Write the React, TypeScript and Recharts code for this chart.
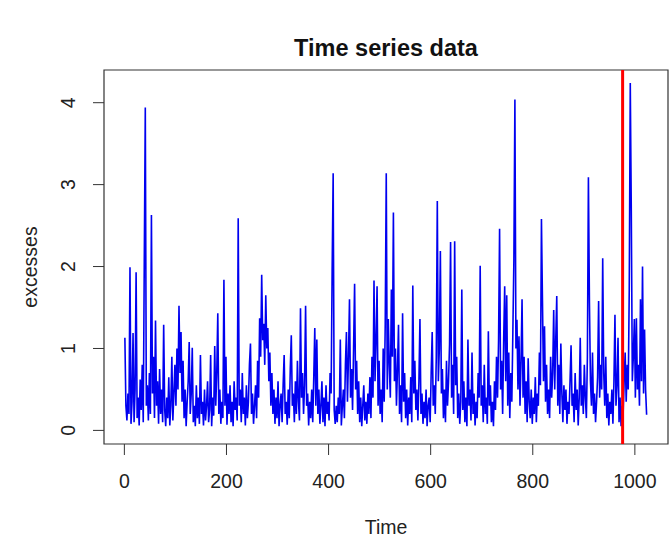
import { LineChart, Line, XAxis, YAxis, ReferenceLine, ReferenceArea } from 'recharts'

const STEP = 2
const excesses = [
  1.13, 0.3, 0.12, 0.45, 0.2, 1.99, 0.08, 0.35, 1.19, 0.1, 0.5, 1.93, 0.15, 0.4, 0.06, 0.62,
  0.25, 0.8, 0.1, 2.06, 3.94, 0.3, 0.55, 0.12, 0.7, 0.2, 2.63, 0.45, 0.9, 0.15, 1.34, 0.3,
  0.6, 0.08, 0.75, 0.2, 0.5, 0.1, 1.29, 0.25, 0.05, 0.4, 0.15, 0.65, 0.06, 0.3, 0.9, 0.12,
  0.45, 0.8, 0.3, 1.0, 0.5, 1.52, 0.7, 1.2, 0.35, 0.85, 0.15, 0.5, 0.05, 0.35, 0.6, 1.08,
  0.2, 0.45, 1.01, 0.1, 0.3, 0.05, 0.55, 0.15, 0.4, 0.08, 0.92, 0.2, 0.35, 0.06, 0.5, 0.12,
  0.3, 0.6, 0.1, 0.25, 0.92, 0.05, 0.4, 0.18, 1.03, 0.3, 0.7, 1.43, 0.2, 0.5, 0.08, 0.35,
  0.15, 1.84, 0.3, 0.9, 0.07, 0.45, 0.2, 0.55, 0.1, 0.35, 0.05, 0.6, 0.25, 0.4, 0.12, 2.59,
  0.3, 0.5, 0.1, 0.7, 0.2, 0.4, 0.06, 0.55, 0.15, 0.35, 0.8, 1.06, 0.2, 0.45, 0.08, 0.3,
  0.55, 0.15, 0.85, 0.4, 1.37, 0.9, 1.9, 1.1, 1.3, 0.8, 1.65, 1.0, 1.25, 0.6, 0.95, 0.3,
  0.7, 0.2, 0.5, 0.08, 0.4, 0.15, 0.6, 0.05, 0.3, 0.45, 0.1, 0.55, 0.92, 0.2, 0.35, 0.07,
  0.5, 0.15, 0.75, 1.16, 0.3, 0.45, 0.1, 0.6, 0.2, 0.85, 0.35, 0.12, 1.49, 0.4, 0.7, 0.2,
  0.55, 1.52, 0.3, 0.45, 0.06, 0.35, 0.15, 0.5, 0.1, 0.65, 1.25, 0.3, 1.11, 0.2, 0.5, 0.08,
  0.3, 0.6, 0.1, 0.4, 0.05, 0.55, 0.2, 0.35, 0.12, 0.7, 0.45, 1.95, 3.14, 0.25, 0.08, 0.3,
  0.1, 0.4, 0.2, 1.11, 0.06, 0.3, 0.5, 0.15, 0.8, 1.2, 0.35, 0.9, 1.6, 0.4, 0.75, 0.25,
  1.0, 1.79, 0.5, 0.85, 0.2, 0.6, 0.1, 0.4, 0.05, 0.3, 0.55, 0.12, 0.35, 0.08, 0.45, 0.2,
  0.65, 0.15, 0.9, 0.4, 1.83, 0.6, 1.1, 1.76, 0.3, 0.85, 0.2, 0.5, 0.1, 1.0, 0.35, 1.3,
  3.14, 0.5, 1.36, 0.8, 0.4, 1.72, 0.9, 2.66, 0.6, 1.0, 0.3, 0.75, 1.29, 0.2, 0.55, 0.1,
  1.43, 0.35, 0.7, 0.15, 0.5, 0.06, 0.4, 0.2, 0.65, 0.1, 1.77, 0.45, 0.85, 0.25, 0.5, 0.12,
  0.6, 1.36, 0.2, 0.45, 0.08, 0.35, 0.15, 0.5, 0.05, 0.3, 0.4, 0.1, 0.7, 1.2, 0.3, 0.55,
  0.2, 0.9, 2.8, 0.6, 1.0, 2.19, 0.45, 0.75, 0.15, 0.5, 0.1, 0.85, 0.3, 0.6, 1.05, 2.3,
  0.4, 0.8, 0.2, 2.31, 0.55, 0.9, 0.15, 0.45, 0.08, 0.35, 1.72, 0.25, 0.6, 0.1, 0.4, 0.05,
  1.11, 0.3, 0.5, 0.12, 0.95, 0.2, 0.45, 0.06, 0.35, 0.15, 0.7, 0.4, 2.01, 0.3, 0.55, 0.1,
  0.8, 0.2, 0.4, 0.08, 1.21, 0.3, 0.55, 0.1, 0.35, 0.05, 0.6, 0.25, 0.9, 0.4, 1.1, 2.46,
  0.5, 0.85, 0.2, 1.1, 1.76, 0.6, 1.65, 0.3, 0.95, 0.15, 0.7, 0.35, 1.2, 2.08, 4.04, 1.0,
  1.35, 0.5, 1.15, 0.3, 0.85, 1.6, 0.4, 0.9, 0.2, 0.6, 0.1, 0.88, 0.35, 0.15, 0.5, 0.08,
  0.4, 0.2, 0.65, 0.1, 0.45, 0.3, 0.95, 0.55, 2.58, 1.58, 0.6, 1.27, 0.35, 0.8, 0.2, 0.5,
  0.15, 0.9, 0.4, 0.7, 1.47, 0.5, 1.1, 1.64, 0.3, 0.8, 0.2, 1.06, 0.45, 0.1, 0.55, 0.25,
  0.5, 0.08, 0.35, 0.2, 0.6, 1.04, 0.3, 0.45, 0.1, 0.7, 0.25, 0.5, 0.06, 0.4, 1.13, 0.3,
  0.55, 0.2, 0.8, 0.4, 0.15, 0.9, 3.09, 1.56, 0.6, 0.3, 0.95, 0.2, 0.45, 0.1, 0.35, 0.65,
  1.58, 0.4, 0.8, 0.5, 2.1, 0.7, 0.3, 0.9, 0.15, 0.45, 0.06, 0.35, 0.2, 0.5, 0.08, 0.6,
  1.41, 0.3, 0.55, 1.13, 0.1, 0.4, 0.05, 0.3, 0.2, 0.6, 0.95, 0.35, 0.8, 0.5, 1.72, 4.24,
  2.68, 0.6, 0.9, 1.36, 0.4, 1.37, 0.5, 0.8, 0.3, 1.6, 0.6, 2.0, 0.45, 1.23, 0.5, 0.19,
]
const timeTicks = [0, 200, 400, 600, 800, 1000]
const valueTicks = [0, 1, 2, 3, 4]
const THRESHOLD_TIME = 976

// R-style padded ranges (4% each side)
const X_DOMAIN: [number, number] = [-39.9, 1064.9]
const Y_DOMAIN: [number, number] = [-0.166, 4.399]

const data = excesses.map((v, i) => ({ t: 1 + STEP * i, v }))

const FONT = '"Liberation Sans", Arial, sans-serif'
const INK = '#333333'

const XTick = (props: any) => (
  <text
    x={props.x}
    y={props.y + 31}
    textAnchor="middle"
    fontSize={19.5}
    fontFamily={FONT}
    fill="#222"
  >
    {props.payload.value}
  </text>
)

const YTick = (props: any) => {
  const x = props.x - 16
  return (
    <text
      x={x}
      y={props.y}
      transform={`rotate(-90, ${x}, ${props.y})`}
      textAnchor="middle"
      fontSize={19.5}
      fontFamily={FONT}
      fill="#222"
    >
      {props.payload.value}
    </text>
  )
}

export default function App() {
  return (
    <div style={{ position: 'relative', width: 669, height: 542, background: '#fff', fontFamily: FONT }}>
      <style>{`body { margin: 0; }`}</style>

      <div
        style={{
          position: 'absolute',
          left: 104,
          width: 564,
          top: 34,
          textAlign: 'center',
          fontSize: 23.5,
          fontWeight: 'bold',
          color: '#111',
          lineHeight: '28px',
        }}
      >
        Time series data
      </div>

      <LineChart
        width={669}
        height={542}
        data={data}
        margin={{ top: 70, right: 1, left: 44, bottom: 58 }}
      >
        <XAxis
          dataKey="t"
          type="number"
          domain={X_DOMAIN}
          allowDataOverflow
          ticks={timeTicks}
          interval={0}
          axisLine={false}
          tickLine={{ stroke: INK }}
          tickSize={11}
          height={40}
          tick={<XTick />}
        />
        <YAxis
          type="number"
          domain={Y_DOMAIN}
          allowDataOverflow
          ticks={valueTicks}
          interval={0}
          axisLine={false}
          tickLine={{ stroke: INK }}
          tickSize={11}
          width={60}
          tick={<YTick />}
        />
        <ReferenceArea
          x1={X_DOMAIN[0]}
          x2={X_DOMAIN[1]}
          y1={Y_DOMAIN[0]}
          y2={Y_DOMAIN[1]}
          fill="none"
          stroke={INK}
          strokeWidth={1.2}
          fillOpacity={0}
        />
        <Line
          type="linear"
          dataKey="v"
          stroke="#0000F0"
          strokeWidth={1.6}
          dot={false}
          isAnimationActive={false}
        />
        <ReferenceLine x={THRESHOLD_TIME} stroke="#FF0000" strokeWidth={3} />
      </LineChart>

      <div
        style={{
          position: 'absolute',
          left: 104,
          width: 564,
          top: 515,
          textAlign: 'center',
          fontSize: 19.5,
          color: '#222',
          lineHeight: '24px',
        }}
      >
        Time
      </div>
      <div
        style={{
          position: 'absolute',
          left: 30,
          top: 267,
          transform: 'translate(-50%, -50%) rotate(-90deg)',
          fontSize: 19.5,
          color: '#222',
          whiteSpace: 'nowrap',
          lineHeight: '24px',
        }}
      >
        excesses
      </div>
    </div>
  )
}
